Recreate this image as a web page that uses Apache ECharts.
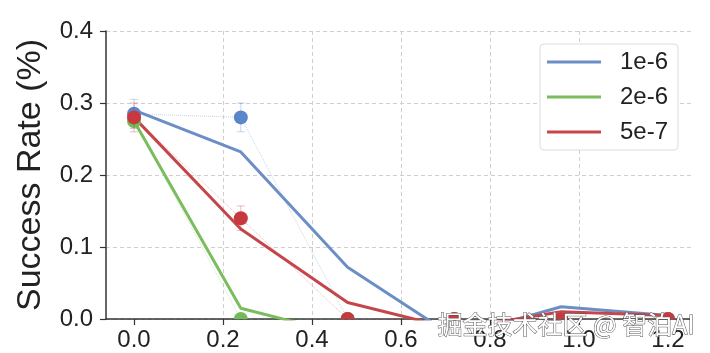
<!DOCTYPE html>
<html>
<head>
<meta charset="utf-8">
<script src="https://cdn.jsdelivr.net/npm/echarts@6/dist/echarts.min.js"></script>
<style>
html,body{margin:0;padding:0;background:#fff;}
#chart{width:710px;height:353px;}
</style>
</head>
<body>
<div id="chart"></div>
<script>
// ---- data ----
const xValues = [0, 0.24, 0.48, 0.72, 0.96, 1.2];
const seriesNames = ['1e-6', '2e-6', '5e-7'];
// fitted lines (values below 0 are clipped by the axis)
const fit1e6 = [0.29, 0.232, 0.072, -0.025, 0.017, 0.005];
const fit2e6 = [0.275, 0.015, -0.023, -0.02, -0.02, -0.02];
const fit5e7 = [0.28, 0.125, 0.023, -0.014, 0.01, 0.005];
// measured points and error half-widths
const pts1e6 = [0.285, 0.28, 0, 0, 0, 0];
const err1e6 = [0.02, 0.02, 0, 0, 0, 0];
const pts2e6 = [0.275, 0, 0, 0, 0, 0];
const err2e6 = [0.01, 0, 0, 0, 0, 0];
const pts5e7 = [0.28, 0.14, 0, 0, 0, 0];
const err5e7 = [0.02, 0.017, 0, 0, 0, 0];
const xTicks = [0, 0.2, 0.4, 0.6, 0.8, 1.0, 1.2];
const yTicks = [0, 0.1, 0.2, 0.3, 0.4];
const watermark = '掘金技术社区 @ 智泊AI';

const colors = {
  '1e-6': {line: '#6b8ec6', dot: '#5b86cc'},
  '2e-6': {line: '#7bbd5e', dot: '#72bb58'},
  '5e-7': {line: '#c4464a', dot: '#c8393d'}
};

const font = '"Liberation Sans", Arial, sans-serif';
const pair = (ys) => xValues.map((x, i) => [x, ys[i]]);
const triple = (ys, es) => xValues.map((x, i) => [x, ys[i], es[i]]);

function makeRender(color) {
  return function (params, api) {
    const x = api.value(0), y = api.value(1), e = api.value(2);
    const p = api.coord([x, y]);
    const cs = params.coordSys;
    const children = [];
    if (e > 0) {
      const t = api.coord([x, y + e]);
      const b = api.coord([x, y - e]);
      const st = {stroke: color, opacity: 0.35, lineWidth: 1};
      children.push({type: 'line', shape: {x1: p[0], y1: t[1], x2: p[0], y2: b[1]}, style: st});
      children.push({type: 'line', shape: {x1: p[0] - 4, y1: t[1], x2: p[0] + 4, y2: t[1]}, style: st});
      children.push({type: 'line', shape: {x1: p[0] - 4, y1: b[1], x2: p[0] + 4, y2: b[1]}, style: st});
    }
    children.push({type: 'circle', shape: {cx: p[0], cy: p[1], r: 7}, style: {fill: color}});
    return {
      type: 'group', children,
      clipPath: {type: 'rect', shape: {x: cs.x, y: cs.y - 20, width: cs.width, height: cs.height + 20}}
    };
  };
}

const fits = {'1e-6': fit1e6, '2e-6': fit2e6, '5e-7': fit5e7};
const pts = {'1e-6': [pts1e6, err1e6], '2e-6': [pts2e6, err2e6], '5e-7': [pts5e7, err5e7]};

const series = [];
seriesNames.forEach(n => {
  series.push({
    name: n + ' obs', type: 'line', data: pair(pts[n][0]), symbol: 'none', silent: true,
    lineStyle: {color: colors[n].dot, width: 1, type: 'dotted', opacity: 0.35}, z: 2
  });
});
seriesNames.forEach(n => {
  series.push({
    name: n, type: 'line', data: pair(fits[n]), symbol: 'none', clip: true,
    lineStyle: {color: colors[n].line, width: 3}, itemStyle: {color: colors[n].line}, z: 3
  });
});
seriesNames.forEach(n => {
  series.push({
    name: n + ' pts', type: 'custom', data: triple(pts[n][0], pts[n][1]),
    renderItem: makeRender(colors[n].dot), z: 4
  });
});

const chart = echarts.init(document.getElementById('chart'), null, {renderer: 'canvas'});
chart.setOption({
  animation: false,
  backgroundColor: '#fff',
  grid: {left: 106, top: 31, right: 18, bottom: 34, containLabel: false},
  xAxis: {
    type: 'value', min: -0.063, max: 1.254,
    axisLine: {show: true, onZero: false, lineStyle: {color: '#333', width: 1.5}},
    axisTick: {show: true, length: 6, customValues: xTicks, lineStyle: {color: '#333', width: 1.2}},
    axisLabel: {customValues: xTicks, formatter: v => v.toFixed(1), color: '#222', fontSize: 24, fontFamily: font, margin: 9},
    splitLine: {show: true, showMinLine: false, showMaxLine: false, lineStyle: {color: '#cfcfcf', type: [4, 3], width: 1}}
  },
  yAxis: {
    type: 'value', min: 0, max: 0.4, interval: 0.1,
    name: 'Success Rate (%)', nameLocation: 'middle', nameGap: 58, nameRotate: 90,
    nameTextStyle: {color: '#222', fontSize: 34, fontFamily: font},
    axisLine: {show: true, onZero: false, lineStyle: {color: '#333', width: 1.5}},
    axisTick: {show: true, length: 6, customValues: yTicks, lineStyle: {color: '#333', width: 1.2}},
    axisLabel: {formatter: v => v.toFixed(1), color: '#222', fontSize: 24, fontFamily: font, margin: 13},
    splitLine: {show: true, lineStyle: {color: '#cfcfcf', type: [4, 3], width: 1}}
  },
  legend: {
    data: seriesNames, orient: 'vertical', left: 540, top: 44,
    padding: [6, 10, 6, 7], itemGap: 11, itemWidth: 54, itemHeight: 3, icon: 'rect',
    backgroundColor: '#fff', borderColor: '#ddd', borderWidth: 1, borderRadius: 4,
    textStyle: {color: '#222', fontSize: 24, fontFamily: font, padding: [0, 0, 0, 14]}
  },
  graphic: [{
    type: 'text', left: 437, top: 311, z: 100,
    style: {text: watermark, font: '25px "Noto Sans CJK SC", sans-serif', fill: '#fff', stroke: '#555', lineWidth: 1}
  }],
  series
});
</script>
</body>
</html>
